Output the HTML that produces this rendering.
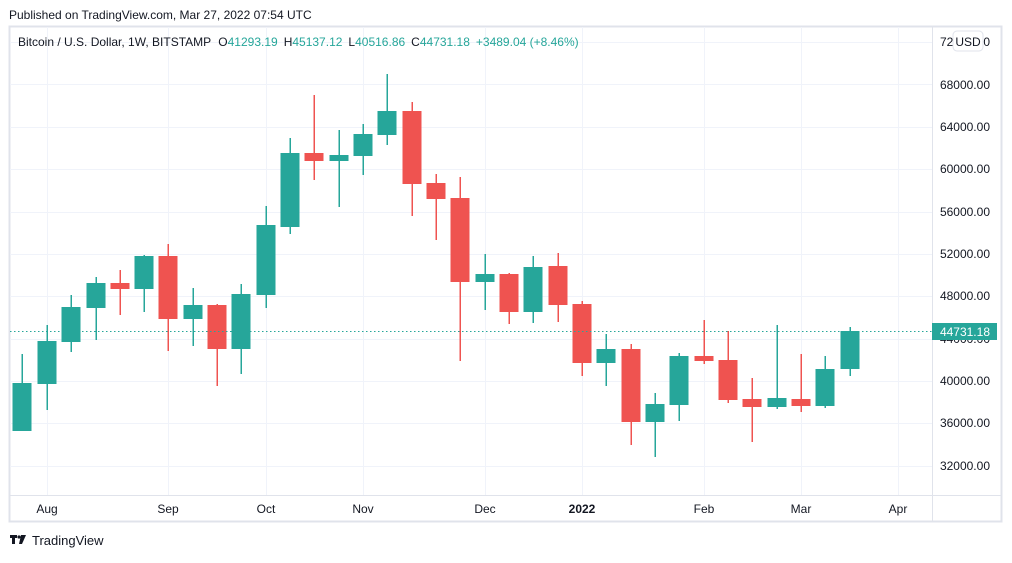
<!DOCTYPE html><html><head><meta charset="utf-8"><style>
body{margin:0;background:#fff;width:1012px;height:558px;overflow:hidden;font-family:"Liberation Sans",sans-serif}
</style></head><body>
<svg width="1012" height="558" xmlns="http://www.w3.org/2000/svg" font-family="Liberation Sans, sans-serif">
<text x="9" y="19" font-size="12" fill="#131722">Published on TradingView.com, Mar 27, 2022 07:54 UTC</text>
<rect x="9.5" y="26.5" width="992" height="495" fill="#fff" stroke="#e0e3eb" stroke-width="2"/>
<g stroke="#f0f3fa" stroke-width="1">
<line x1="10" x2="932" y1="42.5" y2="42.5"/><line x1="10" x2="932" y1="84.5" y2="84.5"/><line x1="10" x2="932" y1="127.5" y2="127.5"/><line x1="10" x2="932" y1="169.5" y2="169.5"/><line x1="10" x2="932" y1="212.5" y2="212.5"/><line x1="10" x2="932" y1="254.5" y2="254.5"/><line x1="10" x2="932" y1="296.5" y2="296.5"/><line x1="10" x2="932" y1="339.5" y2="339.5"/><line x1="10" x2="932" y1="381.5" y2="381.5"/><line x1="10" x2="932" y1="423.5" y2="423.5"/><line x1="10" x2="932" y1="466.5" y2="466.5"/>
<line y1="27" y2="495" x1="47.5" x2="47.5"/><line y1="27" y2="495" x1="168.5" x2="168.5"/><line y1="27" y2="495" x1="266.5" x2="266.5"/><line y1="27" y2="495" x1="363.5" x2="363.5"/><line y1="27" y2="495" x1="485.5" x2="485.5"/><line y1="27" y2="495" x1="582.5" x2="582.5"/><line y1="27" y2="495" x1="704.5" x2="704.5"/><line y1="27" y2="495" x1="801.5" x2="801.5"/><line y1="27" y2="495" x1="898.5" x2="898.5"/>
</g>
<line x1="932.5" x2="932.5" y1="27" y2="521" stroke="#e0e3eb"/>
<line x1="10" x2="1001" y1="495.5" y2="495.5" stroke="#e0e3eb"/>
<text x="18" y="46" font-size="12" fill="#131722">Bitcoin / U.S. Dollar, 1W, BITSTAMP <tspan dx="4">O</tspan><tspan fill="#26a69a">41293.19</tspan><tspan dx="6">H</tspan><tspan fill="#26a69a">45137.12</tspan><tspan dx="6">L</tspan><tspan fill="#26a69a">40516.86</tspan><tspan dx="6">C</tspan><tspan fill="#26a69a">44731.18</tspan><tspan dx="6" fill="#26a69a">+3489.04 (+8.46%)</tspan></text>
<g fill="#26a69a">
<rect x="21.5" y="354" width="1.5" height="77"/><rect x="12.5" y="383" width="19" height="48"/>
<rect x="46.5" y="325" width="1.5" height="85"/><rect x="37.5" y="341" width="19" height="43"/>
<rect x="70.5" y="295" width="1.5" height="57"/><rect x="61.5" y="307" width="19" height="35"/>
<rect x="95.5" y="277" width="1.5" height="63"/><rect x="86.5" y="283" width="19" height="25"/>
<rect x="143.5" y="255" width="1.5" height="57"/><rect x="134.5" y="256" width="19" height="33"/>
<rect x="192.5" y="288" width="1.5" height="58"/><rect x="183.5" y="305" width="19" height="14"/>
<rect x="240.5" y="284" width="1.5" height="90"/><rect x="231.5" y="294" width="19" height="55"/>
<rect x="265.5" y="206" width="1.5" height="102"/><rect x="256.5" y="225" width="19" height="70"/>
<rect x="289.5" y="138" width="1.5" height="96"/><rect x="280.5" y="153" width="19" height="74"/>
<rect x="338.5" y="130" width="1.5" height="77"/><rect x="329.5" y="155" width="19" height="6"/>
<rect x="362.5" y="124" width="1.5" height="51"/><rect x="353.5" y="134" width="19" height="22"/>
<rect x="386.5" y="74" width="1.5" height="71"/><rect x="377.5" y="111" width="19" height="24"/>
<rect x="484.5" y="254" width="1.5" height="56"/><rect x="475.5" y="274" width="19" height="8"/>
<rect x="532.5" y="256" width="1.5" height="67"/><rect x="523.5" y="267" width="19" height="45"/>
<rect x="605.5" y="334" width="1.5" height="52"/><rect x="596.5" y="349" width="19" height="14"/>
<rect x="654.5" y="393" width="1.5" height="64"/><rect x="645.5" y="404" width="19" height="18"/>
<rect x="678.5" y="353" width="1.5" height="68"/><rect x="669.5" y="356" width="19" height="49"/>
<rect x="776.5" y="325" width="1.5" height="84"/><rect x="767.5" y="398" width="19" height="9"/>
<rect x="824.5" y="356" width="1.5" height="52"/><rect x="815.5" y="369" width="19" height="37"/>
<rect x="849.5" y="327" width="1.5" height="49"/><rect x="840.5" y="331" width="19" height="38"/>
</g>
<g fill="#ef5350">
<rect x="119.5" y="270" width="1.5" height="45"/><rect x="110.5" y="283" width="19" height="6"/>
<rect x="167.5" y="244" width="1.5" height="107"/><rect x="158.5" y="256" width="19" height="63"/>
<rect x="216.5" y="304" width="1.5" height="82"/><rect x="207.5" y="305" width="19" height="44"/>
<rect x="313.5" y="95" width="1.5" height="85"/><rect x="304.5" y="153" width="19" height="8"/>
<rect x="411.5" y="102" width="1.5" height="114"/><rect x="402.5" y="111" width="19" height="73"/>
<rect x="435.5" y="174" width="1.5" height="66"/><rect x="426.5" y="183" width="19" height="16"/>
<rect x="459.5" y="177" width="1.5" height="184"/><rect x="450.5" y="198" width="19" height="84"/>
<rect x="508.5" y="273" width="1.5" height="51"/><rect x="499.5" y="274" width="19" height="38"/>
<rect x="557.5" y="253" width="1.5" height="69"/><rect x="548.5" y="266" width="19" height="39"/>
<rect x="581.5" y="301" width="1.5" height="75"/><rect x="572.5" y="304" width="19" height="59"/>
<rect x="630.5" y="344" width="1.5" height="101"/><rect x="621.5" y="349" width="19" height="73"/>
<rect x="703.5" y="320" width="1.5" height="44"/><rect x="694.5" y="356" width="19" height="5"/>
<rect x="727.5" y="331" width="1.5" height="72"/><rect x="718.5" y="360" width="19" height="40"/>
<rect x="751.5" y="378" width="1.5" height="64"/><rect x="742.5" y="399" width="19" height="8"/>
<rect x="800.5" y="354" width="1.5" height="58"/><rect x="791.5" y="399" width="19" height="7"/>
</g>
<line x1="10" x2="932" y1="331.5" y2="331.5" stroke="#26a69a" stroke-dasharray="1.5,2.5"/>
<g font-size="12" fill="#131722" text-anchor="end">
<text x="990" y="46">72000.00</text><text x="990" y="89">68000.00</text><text x="990" y="131">64000.00</text><text x="990" y="173">60000.00</text><text x="990" y="216">56000.00</text><text x="990" y="258">52000.00</text><text x="990" y="300">48000.00</text><text x="990" y="343">44000.00</text><text x="990" y="385">40000.00</text><text x="990" y="427">36000.00</text><text x="990" y="470">32000.00</text>
</g>
<rect x="953" y="31" width="30" height="20" rx="4" fill="#fff" stroke="#e0e3eb"/>
<text x="968" y="46" font-size="12" fill="#131722" text-anchor="middle">USD</text>
<rect x="932" y="323" width="65" height="17" fill="#26a69a"/>
<text x="990" y="336" font-size="12" fill="#fff" text-anchor="end">44731.18</text>
<g font-size="12" fill="#131722" text-anchor="middle">
<text x="47" y="513">Aug</text><text x="168" y="513">Sep</text><text x="266" y="513">Oct</text><text x="363" y="513">Nov</text><text x="485" y="513">Dec</text><text x="582" y="513" font-weight="bold">2022</text><text x="704" y="513">Feb</text><text x="801" y="513">Mar</text><text x="898" y="513">Apr</text>
</g>
<g fill="#131722"><rect x="10" y="535" width="7" height="3"/><rect x="12" y="535" width="3" height="9"/><circle cx="19" cy="537" r="1.6"/><path d="M21 535h5l-4 9h-3z"/></g>
<text x="32" y="545" font-size="13" fill="#131722">TradingView</text>
</svg>
</body></html>
